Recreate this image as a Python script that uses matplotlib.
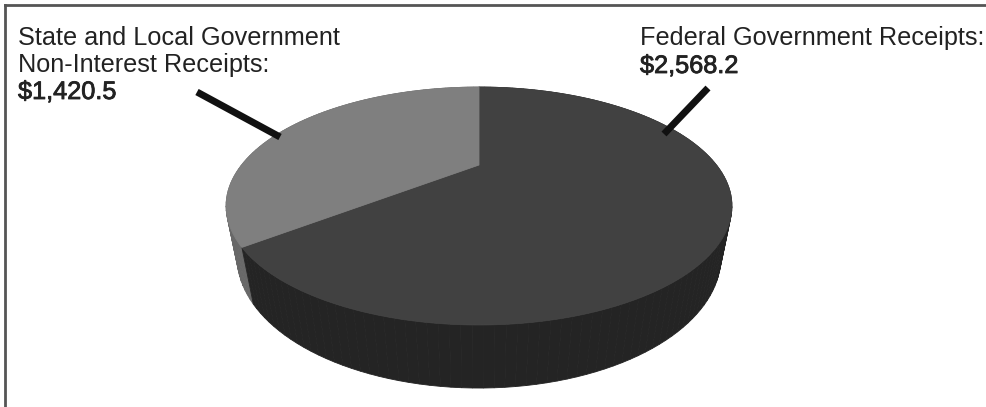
import numpy as np
import matplotlib
matplotlib.use("Agg")
import matplotlib.pyplot as plt
from matplotlib.patches import Polygon
import matplotlib.patheffects as pe

# receipts, billions of dollars
labels = ["Federal Government Receipts:", "State and Local Government\nNon-Interest Receipts:"]
values = [2568.2, 1420.5]
top_colors = ["#414141", "#7f7f7f"]
side_colors = ["#242424", "#686868"]

# simple pinhole view of a flat cylinder (pixel space)
CX, CY = 479, 165
K = 618.0
DIST = 2.603
TILT = np.radians(26.2)
THICK = 0.236


def project(x, y, z):
    c, s = np.cos(TILT), np.sin(TILT)
    depth = y * c - z * s + DIST
    u = y * s + z * c
    return CX + K * x / depth, CY - K * u / depth, depth


def rim(a0, a1, z, n):
    ang = np.linspace(a0, a1, n)
    return project(np.sin(ang), np.cos(ang), z)


fig = plt.figure(figsize=(9.87, 4.07), dpi=100)
ax = fig.add_axes([0, 0, 1, 1])
ax.set_xlim(0, 987)
ax.set_ylim(407, 0)
ax.axis("off")

# angles go clockwise from 12 o'clock
fracs = np.array(values) / sum(values)
edges = np.concatenate([[0], np.cumsum(fracs)]) * 2 * np.pi

# side wall strips, far to near
strips = []
for i in range(len(values)):
    n = max(int(200 * fracs[i]), 4)
    ang = np.linspace(edges[i], edges[i + 1], n + 1)
    for a0, a1 in zip(ang[:-1], ang[1:]):
        xt, yt, dt = rim(a0, a1, 0, 2)
        xb, yb, db = rim(a0, a1, -THICK, 2)
        pts = [(xt[0], yt[0]), (xt[1], yt[1]), (xb[1], yb[1]), (xb[0], yb[0])]
        strips.append((dt.mean(), pts, side_colors[i]))
strips.sort(key=lambda t: -t[0])
for _, pts, col in strips:
    ax.add_patch(Polygon(pts, closed=True, facecolor=col, edgecolor=col, lw=0.6))

# top wedges
for i in range(len(values)):
    n = max(int(400 * fracs[i]), 8)
    xs, ys, _ = rim(edges[i], edges[i + 1], 0, n)
    cx0, cy0, _ = project(0, 0, 0)
    pts = [(cx0, cy0)] + list(zip(xs, ys))
    ax.add_patch(Polygon(pts, closed=True, facecolor=top_colors[i], edgecolor=top_colors[i], lw=0.6))

# labels with leader lines
txt = dict(fontsize=18.2, color="#222222", family="Liberation Sans", va="baseline")
heavy = [pe.withStroke(linewidth=0.6, foreground="#222222")]
ax.text(640, 45, labels[0], **txt)
ax.text(640, 73, "${:,.1f}".format(values[0]), path_effects=heavy, **txt)
ax.plot([708, 664], [88, 134], color="#111111", lw=5, solid_capstyle="butt")

ax.text(18, 45, labels[1].split("\n")[0], **txt)
ax.text(18, 72, labels[1].split("\n")[1], **txt)
ax.text(18, 99, "${:,.1f}".format(values[1]), path_effects=heavy, **txt)
ax.plot([197, 280], [92, 137], color="#111111", lw=5, solid_capstyle="butt")

# frame on top and left only
ax.plot([5, 987], [5, 5], color="#555555", lw=2)
ax.plot([5, 5], [5, 407], color="#555555", lw=2)

fig.savefig("out.png", dpi=100, facecolor="white")
